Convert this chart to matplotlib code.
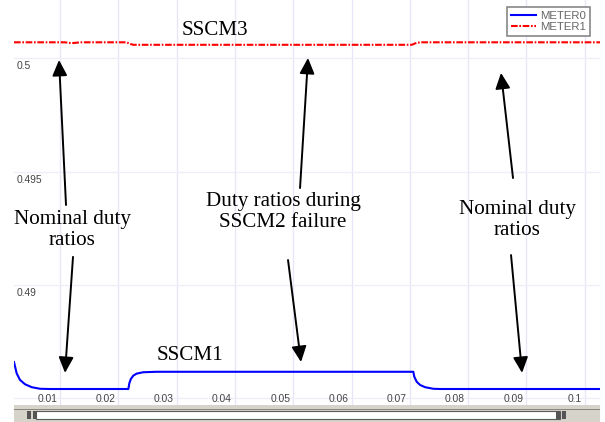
import matplotlib
matplotlib.use("Agg")
import matplotlib.pyplot as plt
from matplotlib.patches import Rectangle

# METER0: SSCM1 duty ratio
t_meter0 = [0.00211, 0.00257, 0.00314, 0.00400, 0.00515, 0.00657, 0.00829,
            0.02172, 0.02189, 0.02213, 0.02257, 0.02316, 0.02429, 0.02659,
            0.07060, 0.07077, 0.07118, 0.07175, 0.07261, 0.07403, 0.07518,
            0.10262]
d_meter0 = [0.48660, 0.48610, 0.48581, 0.48562, 0.48549, 0.48542, 0.48541,
            0.48541, 0.48566, 0.48584, 0.48600, 0.48609, 0.48615, 0.48617,
            0.48617, 0.48595, 0.48573, 0.48559, 0.48549, 0.48542, 0.48541,
            0.48541]

# METER1: SSCM3 duty ratio
t_meter1 = [0.00211, 0.0108, 0.0120, 0.0135, 0.02143, 0.02201, 0.02257,
            0.07033, 0.07118, 0.07204, 0.10262]
d_meter1 = [0.50071, 0.50071, 0.50067, 0.50071, 0.50071, 0.50064, 0.50060,
            0.50060, 0.50069, 0.50071, 0.50071]

x_ticks = [0.01, 0.02, 0.03, 0.04, 0.05, 0.06, 0.07, 0.08, 0.09, 0.1]
x_tick_labels = ["0.01", "0.02", "0.03", "0.04", "0.05", "0.06", "0.07",
                 "0.08", "0.09", "0.1"]
y_grid = [0.5, 0.495, 0.49, 0.485]
y_ticks = [0.5, 0.495, 0.49]
y_tick_labels = ["0.5", "0.495", "0.49"]

fig = plt.figure(figsize=(6.05, 4.22), dpi=100)
W, H = 605, 422
ax = fig.add_axes([14 / W, 17 / H, 586 / W, 405 / H])
ax.set_xlim(0.00211, 0.10262)
ax.set_ylim(0.484704, 0.502577)
for s in ax.spines.values():
    s.set_visible(False)
ax.set_xticks([])
ax.set_yticks([])

grid_col = "#e6e6f8"
for x in x_ticks:
    ax.axvline(x, color=grid_col, lw=0.9, zorder=0)
for y in y_grid:
    ax.axhline(y, color="#eeeefa", lw=0.9, zorder=0)

tick_font = dict(family="Liberation Sans", size=7.4, color="#444444")
for x, lab in zip(x_ticks, x_tick_labels):
    ax.annotate(lab, xy=(x, 0), xycoords=("data", "axes fraction"),
                xytext=(-3, 6), textcoords="offset pixels",
                ha="right", va="center", **tick_font)
for y, lab in zip(y_ticks, y_tick_labels):
    ax.annotate(lab, xy=(0, y), xycoords=("axes fraction", "data"),
                xytext=(3, -8), textcoords="offset pixels",
                ha="left", va="center", **tick_font)

ax.plot(t_meter0, d_meter0, color="#0000ff", lw=1.5, label="METER0")
ax.plot(t_meter1, d_meter1, color="#ff0000", lw=1.5,
        linestyle=(0, (3.2, 0.8, 0.8, 0.8)), label="METER1")

leg = ax.legend(loc="upper right", bbox_to_anchor=(590 / W, 1 - 7 / H),
                bbox_transform=fig.transFigure, frameon=True, fancybox=False,
                prop=dict(family="Liberation Sans", size=8.2),
                handlelength=2.2, handletextpad=0.35, labelspacing=0.05,
                borderpad=0.35, borderaxespad=0, framealpha=1)
leg.get_frame().set_edgecolor("#888888")
leg.get_frame().set_linewidth(1.2)
for txt in leg.get_texts():
    txt.set_color("#666666")

# annotations
serif = dict(family="Liberation Serif", size=15.2, color="black")
ax.text(0.03659, 0.50122, "SSCM3", ha="center", va="center", **serif)
ax.text(0.03229, 0.48688, "SSCM1", ha="center", va="center", **serif)
ax.text(0.01206, 0.49243, "Nominal duty\nratios", ha="center", va="center",
        linespacing=1.15, **serif)
ax.text(0.04825, 0.49322, "Duty ratios during\nSSCM2 failure", ha="center",
        va="center", linespacing=1.15, **serif)
ax.text(0.08839, 0.49287, "Nominal duty\nratios", ha="center", va="center",
        linespacing=1.15, **serif)

arrows = [
    ((0.01103, 0.49353), (0.00983, 0.49993)),
    ((0.01223, 0.49124), (0.01086, 0.48612)),
    ((0.05117, 0.49428), (0.05254, 0.50002)),
    ((0.04911, 0.49110), (0.05134, 0.48660)),
    ((0.08770, 0.49472), (0.08564, 0.49936)),
    ((0.08736, 0.49132), (0.08925, 0.48612)),
]
for tail, tip in arrows:
    ax.annotate("", xy=tip, xytext=tail,
                arrowprops=dict(arrowstyle="-|>,head_length=0.95,head_width=0.45",
                                mutation_scale=10, color="black", lw=1.4,
                                shrinkA=0, shrinkB=0))

# scroll bar under the plot
def px(x0, y0, w, h):
    return (x0 / W, 1 - (y0 + h) / H, w / W, h / H)

x0, y0, w, h = px(14, 405, 586, 17)
fig.patches.append(Rectangle((x0, y0), w, h, transform=fig.transFigure,
                             facecolor="#d6d3ca", edgecolor="none"))
x0, y0, w, h = px(14, 409, 586, 1.2)
fig.patches.append(Rectangle((x0, y0), w, h, transform=fig.transFigure,
                             facecolor="#8a877e", edgecolor="none"))
x0, y0, w, h = px(36, 411, 524, 8)
fig.patches.append(Rectangle((x0, y0), w, h, transform=fig.transFigure,
                             facecolor="white", edgecolor="#5a5a5a", lw=0.8))
for xa in (27, 33, 556, 562):
    x0, y0, w, h = px(xa, 411, 4, 8)
    fig.patches.append(Rectangle((x0, y0), w, h, transform=fig.transFigure,
                                 facecolor="#555555", edgecolor="none"))
x0, y0, w, h = px(566, 414.5, 23, 0.8)
fig.patches.append(Rectangle((x0, y0), w, h, transform=fig.transFigure,
                             facecolor="#444444", edgecolor="none"))

fig.savefig("out.png", dpi=100, facecolor="white")
